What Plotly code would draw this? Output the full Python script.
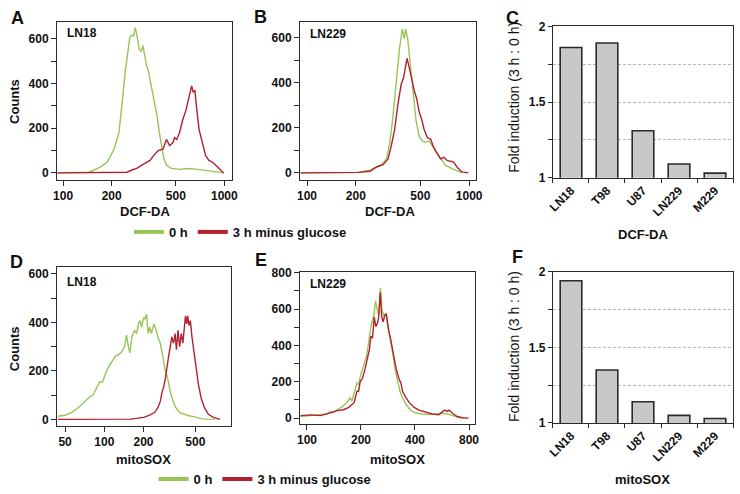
import plotly.graph_objects as go

GREEN = '#98c555'
RED = '#b3202f'
FONT = 'Liberation Sans, Arial, Helvetica, sans-serif'
LINE = '#2b2b2b'

# ---------------- data ----------------
# Panel A: LN18, DCF-DA
a_green_x = [92, 120, 145, 171, 188, 207, 222, 232, 243, 259, 267, 274, 280, 286, 296, 305, 312, 319, 330, 337,
             346, 359, 371, 383, 394, 407, 421, 437, 469, 527, 592, 665, 765, 881, 991]
a_green_y = [0, 1, 3, 27, 49, 107, 180, 310, 455, 607, 617, 614, 651, 622, 556, 542, 571, 535, 477, 462,
             419, 354, 310, 252, 187, 122, 64, 35, 20, 16, 20, 17, 10, 3, 0]
a_red_x = [92, 150, 226, 249, 267, 286, 315, 346, 371, 389, 417, 437, 458, 480, 491, 507, 527, 552, 578, 606,
           627, 641, 656, 675, 697, 730, 765, 802, 841, 881, 922, 991]
a_red_y = [0, 0, 1, 3, 13, 20, 39, 56, 85, 100, 107, 150, 122, 136, 158, 150, 180, 238, 281, 339,
           390, 361, 371, 281, 194, 136, 78, 56, 49, 35, 20, 0]

# Panel B: LN229, DCF-DA
b_green_x = [91, 150, 203, 245, 269, 288, 309, 324, 339, 356, 372, 387, 398, 406, 418, 428, 449, 470, 492, 516,
             540, 566, 593, 622, 667, 715, 785, 861, 902]
b_green_y = [0, 0, 2, 12, 26, 36, 62, 134, 250, 408, 553, 639, 596, 639, 596, 524, 380, 235, 163, 141,
             137, 141, 120, 98, 62, 33, 19, 4, 0]
b_red_x = [91, 150, 210, 245, 268, 295, 316, 331, 347, 364, 381, 394, 405, 414, 428, 445, 459, 475, 492, 511,
           528, 553, 580, 599, 628, 667, 699, 731, 767, 803, 841, 902, 991]
b_red_y = [0, 0, 2, 7, 26, 36, 62, 120, 192, 307, 394, 423, 466, 509, 466, 408, 365, 329, 271, 235,
           192, 156, 149, 120, 91, 62, 69, 55, 50, 48, 26, 4, 0]

# Panel D: LN18, mitoSOX
d_green_x = [44, 50, 56, 63, 71, 77, 82, 86, 92, 97, 103, 109, 115, 122, 129, 137, 143, 148, 153, 157,
             163, 170, 177, 183, 188, 194, 200, 205, 211, 217, 223, 230, 240, 248, 258, 269, 281, 292, 307, 321,
             338, 354, 379, 408, 445, 485, 529, 594, 705]
d_green_y = [13, 17, 28, 48, 74, 92, 101, 121, 154, 154, 194, 221, 241, 261, 267, 281, 300, 347, 300, 274,
             340, 367, 354, 394, 407, 380, 420, 414, 434, 354, 380, 354, 394, 374, 340, 314, 261, 207, 168, 114,
             74, 48, 28, 21, 15, 11, 5, 1, 0]
d_red_x = [44, 100, 158, 177, 200, 223, 243, 258, 269, 278, 286, 294, 303, 312, 321, 330, 340, 350, 358, 368,
           379, 390, 401, 412, 420, 429, 437, 447, 458, 471, 485, 505, 529, 554, 587, 630, 688, 772]
d_red_y = [0, 0, 1, 4, 8, 17, 28, 48, 74, 114, 134, 168, 207, 261, 300, 340, 314, 354, 287, 367,
           300, 354, 314, 380, 427, 394, 427, 387, 407, 340, 287, 207, 141, 88, 48, 21, 8, 0]

# Panel E: LN229, mitoSOX
e_green_x = [92, 105, 119, 130, 135, 141, 147, 157, 167, 174, 178, 186, 190, 194, 199, 206, 215, 223, 229, 236,
             241, 246, 251, 257, 262, 268, 275, 283, 292, 302, 312, 321, 330, 341, 356, 380, 404, 439, 479, 521,
             567, 604, 643, 700, 745]
e_green_y = [9, 14, 18, 23, 36, 32, 46, 62, 85, 112, 94, 165, 192, 183, 236, 281, 343, 450, 521, 565,
             645, 601, 565, 716, 592, 565, 574, 503, 432, 343, 254, 201, 148, 112, 76, 41, 28, 23, 20, 23,
             27, 23, 14, 5, 2]
e_red_x = [92, 105, 119, 130, 138, 147, 160, 171, 178, 183, 190, 194, 198, 204, 211, 217, 223, 227, 232, 237,
           242, 247, 251, 256, 261, 266, 271, 277, 285, 293, 302, 314, 325, 334, 341, 356, 372, 396, 421, 459,
           499, 543, 567, 585, 604, 620, 647, 686, 731, 795]
e_red_y = [14, 18, 14, 23, 32, 41, 46, 59, 76, 85, 148, 148, 201, 219, 272, 325, 379, 450, 441, 556,
           503, 521, 556, 690, 556, 530, 565, 571, 485, 432, 361, 272, 219, 192, 148, 112, 85, 59, 44, 32,
           23, 18, 32, 44, 37, 44, 27, 9, 2, 0]

# Panels C and F: fold induction (3 h : 0 h)
cell_lines = ['LN18', 'T98', 'U87', 'LN229', 'M229']
c_fold = [1.86, 1.89, 1.31, 1.09, 1.03]
f_fold = [1.94, 1.35, 1.14, 1.05, 1.03]

legend_names = ['0 h', '3 h minus glucose']

# ---------------- figure ----------------
W, H = 740, 494


def dx(x0, x1):
    return [x0 / W, x1 / W]


def dy(y0, y1):
    return [1 - y1 / H, 1 - y0 / H]


fig = go.Figure()

hist_panels = [
    ('x', 'y', a_green_x, a_green_y, a_red_x, a_red_y),
    ('x2', 'y2', b_green_x, b_green_y, b_red_x, b_red_y),
    ('x4', 'y4', d_green_x, d_green_y, d_red_x, d_red_y),
    ('x5', 'y5', e_green_x, e_green_y, e_red_x, e_red_y),
]
for xa, ya, gx, gy, rx, ry in hist_panels:
    fig.add_trace(go.Scatter(x=gx, y=gy, xaxis=xa, yaxis=ya, mode='lines',
                             line=dict(color=GREEN, width=1.4), showlegend=False, hoverinfo='skip'))
    fig.add_trace(go.Scatter(x=rx, y=ry, xaxis=xa, yaxis=ya, mode='lines',
                             line=dict(color=RED, width=1.4), showlegend=False, hoverinfo='skip'))

# legend-only traces
for lg in ['legend', 'legend2']:
    for name, col in zip(legend_names, [GREEN, RED]):
        fig.add_trace(go.Scatter(x=[None], y=[None], xaxis='x', yaxis='y', mode='lines', name=name,
                                 line=dict(color=col, width=4), legend=lg, showlegend=True))

for xa, ya, vals in [('x3', 'y3', c_fold), ('x6', 'y6', f_fold)]:
    fig.add_trace(go.Bar(x=cell_lines, y=vals, xaxis=xa, yaxis=ya, width=0.6,
                         marker=dict(color='#c8c8c8', line=dict(color=LINE, width=1.6)),
                         showlegend=False, hoverinfo='skip'))

tickfont = dict(family=FONT, size=12, color='#111111', weight='bold')
base = dict(showline=True, mirror=True, linecolor=LINE, linewidth=1.3, ticks='outside', ticklen=5,
            tickwidth=1.2, tickcolor=LINE, showgrid=False, zeroline=False, tickfont=tickfont)


def logx(dom, rng, vals):
    d = dict(base)
    d.update(domain=dom, type='log', range=rng, tickvals=vals, ticktext=[str(v) for v in vals])
    return d


def liny(dom, rng, top, anchor):
    d = dict(base)
    tv = list(range(0, top + 1, 100))
    d.update(domain=dom, range=rng, tickvals=tv, ticktext=[str(v) if v % 200 == 0 else '' for v in tv],
             anchor=anchor)
    return d


def barx(dom, anchor):
    d = dict(base)
    d.update(domain=dom, type='category', range=[-0.5, 4.5], tickson='boundaries', tickangle=-45, ticklen=4,
             anchor=anchor)
    return d


def bary(dom, anchor):
    d = dict(base)
    d.update(domain=dom, range=[1, 2], tickvals=[1, 1.25, 1.5, 1.75, 2], ticktext=['1', '', '1.5', '', '2'],
             showgrid=True, gridcolor='#b8b8b8', griddash='3px,2px', gridwidth=1, ticklen=4, anchor=anchor)
    return d


fig.update_layout(
    width=W, height=H, margin=dict(l=0, r=0, t=0, b=0),
    paper_bgcolor='white', plot_bgcolor='white',
    font=dict(family=FONT, size=12, color='#111111'),
    xaxis=dict(logx(dx(52, 230), [1.963, 3.049], [100, 200, 500, 1000]), anchor='y'),
    yaxis=liny(dy(15, 178), [-30, 678], 600, 'x'),
    xaxis2=dict(logx(dx(299, 478), [1.9575, 3.044], [100, 200, 500, 1000]), anchor='y2'),
    yaxis2=liny(dy(15, 178), [-30, 673], 600, 'x2'),
    xaxis3=barx(dx(556, 739), 'y3'),
    yaxis3=bary(dy(20, 176), 'x3'),
    xaxis4=dict(logx(dx(52, 229), [1.638, 2.975], [50, 100, 200, 500]), anchor='y4'),
    yaxis4=liny(dy(268, 432), [-27, 629], 600, 'x4'),
    xaxis5=dict(logx(dx(299, 477), [1.962, 2.938], [100, 200, 400, 800]), anchor='y5'),
    yaxis5=liny(dy(273, 430), [-32, 805], 800, 'x5'),
    xaxis6=barx(dx(556, 739), 'y6'),
    yaxis6=bary(dy(273, 429), 'x6'),
    legend=dict(orientation='h', x=125 / W, y=1 - 232 / H, xanchor='left', yanchor='middle',
                font=dict(family=FONT, size=13, color='#111111', weight='bold'), bgcolor='rgba(0,0,0,0)'),
    legend2=dict(orientation='h', x=150 / W, y=1 - 487 / H, xanchor='left', yanchor='middle',
                 font=dict(family=FONT, size=13, color='#111111', weight='bold'), bgcolor='rgba(0,0,0,0)'),
)

ann = []


def txt(x, y, s, size=13, bold=True, angle=0, xanchor='center'):
    ann.append(dict(x=x / W, y=1 - y / H, xref='paper', yref='paper', text=('<b>%s</b>' % s) if bold else s,
                    showarrow=False, xanchor=xanchor, yanchor='middle', textangle=angle,
                    font=dict(family=FONT, size=size, color='#111111')))


# panel letters
txt(3, 11, 'A', 18, xanchor='left')
txt(250, 10, 'B', 18, xanchor='left')
txt(506, 11, 'C', 18, xanchor='left')
txt(2, 263, 'D', 18, xanchor='left')
txt(251, 261, 'E', 18, xanchor='left')
txt(512, 258, 'F', 18, xanchor='left')
# inset labels
txt(60, 27, 'LN18', 12, xanchor='left')
txt(307, 28, 'LN229', 12, xanchor='left')
txt(60, 284, 'LN18', 12, xanchor='left')
txt(307, 286, 'LN229', 12, xanchor='left')
# axis titles
txt(141, 211, 'DCF-DA', 13)
txt(390, 211, 'DCF-DA', 13)
txt(648, 235, 'DCF-DA', 13)
txt(140, 467, 'mitoSOX', 13)
txt(398, 467, 'mitoSOX', 13)
txt(647, 487, 'mitoSOX', 13)
txt(8, 97, 'Counts', 13, angle=-90)
txt(8, 352, 'Counts', 13, angle=-90)
txt(517, 93, 'Fold induction (3 h : 0 h)', 14, bold=False, angle=-90)
txt(517, 350, 'Fold induction (3 h : 0 h)', 14, bold=False, angle=-90)

fig.update_layout(annotations=ann)
fig.write_html('out.html', config={'displayModeBar': False},
               post_script="document.body.style.margin='0px';document.body.style.overflow='hidden';")
